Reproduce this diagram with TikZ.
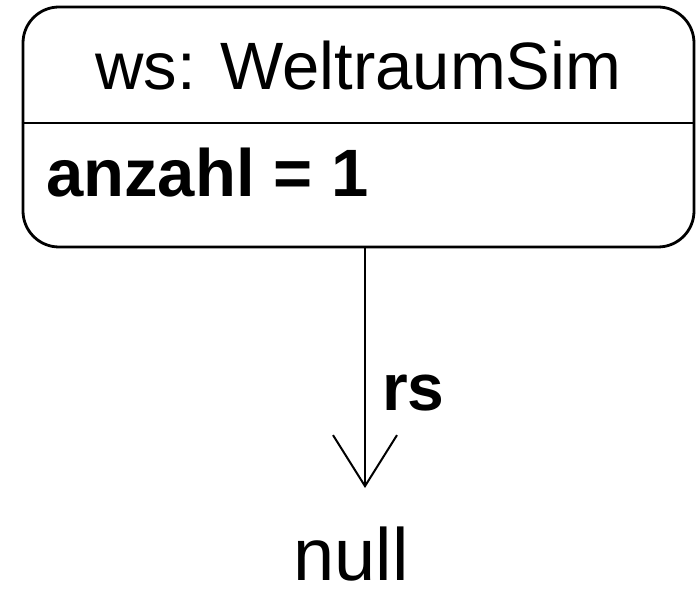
\documentclass[tikz,border=0pt]{standalone}
\usepackage{fontspec}
\setmainfont{Liberation Sans}
\usetikzlibrary{arrows.meta}
\begin{document}
\begin{tikzpicture}[x=1pt,y=-1pt,
  objbox/.style={draw, line width=2.8pt, rounded corners=36pt, minimum width=671pt, minimum height=240pt, inner sep=0pt},
  txt/.style={inner sep=0pt, anchor=base west},
  link/.style={line width=2pt, -{Straight Barb[length=51pt, width=64pt, line width=2pt]}}
]
\useasboundingbox (0,0) rectangle (697,596);
\node[objbox] (obj) at (358.5,127) {};
\draw[line width=2.8pt] (obj.west |- 0,123) -- (obj.east |- 0,123);
\node[txt, font=\fontsize{67}{80}\selectfont] (title) at (95,90) {ws: WeltraumSim};
\node[txt, font=\fontsize{67}{80}\selectfont\bfseries] (attr) at (46,197) {anzahl = 1};
\node[inner sep=0pt, anchor=base, text depth=0pt, font=\fontsize{74}{88}\selectfont] (null) at (351,580) {null};
\coordinate (tip) at (365,488);
\draw[link] (obj.south -| tip) -- (tip);
\node[txt, font=\fontsize{66}{80}\selectfont\bfseries] (rs) at (382,410) {rs};
\end{tikzpicture}
\end{document}
